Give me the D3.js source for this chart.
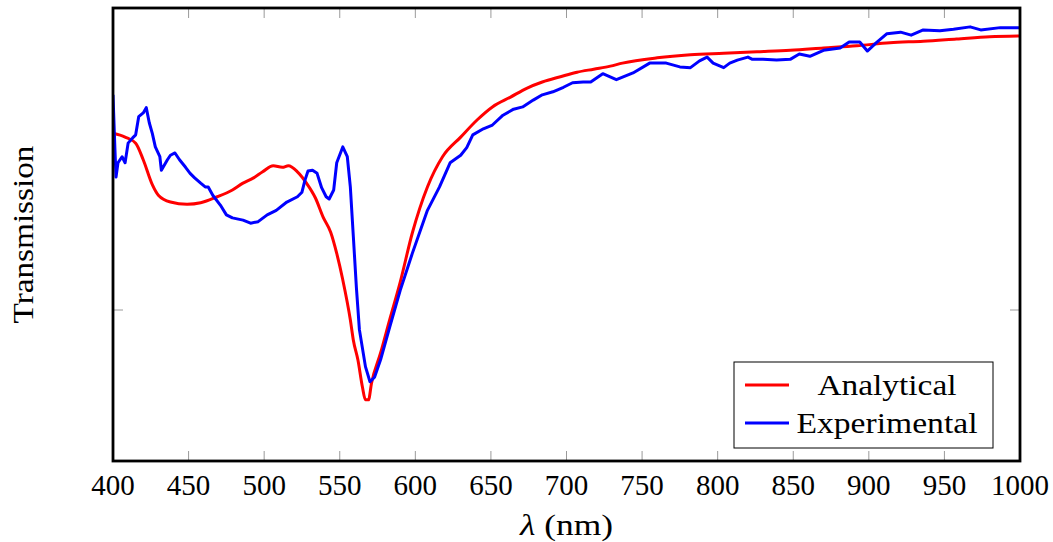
<!DOCTYPE html>
<html>
<head>
<meta charset="utf-8">
<script src="https://cdn.jsdelivr.net/npm/d3@7"></script>
<style>
    body { margin: 0; background: #fff; }
</style>
</head>
<body id="body">
<script>
// wavelength (nm) and transmission
var analyticalL = [400, 408, 415, 420, 426, 430, 438, 449, 458, 469, 479, 486, 493, 499, 506, 512, 516, 522, 528,
    534, 539, 544, 548, 552, 557, 559, 562, 565, 567, 569, 571, 577, 583, 590, 598, 608, 618, 630, 641,
    651, 663, 674, 684, 696, 707, 718, 729, 737, 760, 782, 804, 826, 848, 870, 892, 914, 936, 958, 980, 1000];
var analyticalT = [0.734, 0.729, 0.721, 0.699, 0.666, 0.652, 0.643, 0.640, 0.642, 0.650, 0.659, 0.668, 0.675, 0.683, 0.691, 0.689, 0.691, 0.683, 0.668,
    0.648, 0.623, 0.603, 0.575, 0.540, 0.487, 0.460, 0.434, 0.398, 0.381, 0.381, 0.403, 0.443, 0.487, 0.537, 0.602, 0.663, 0.703, 0.729, 0.752,
    0.769, 0.782, 0.794, 0.802, 0.809, 0.815, 0.819, 0.823, 0.827, 0.834, 0.838, 0.840, 0.842, 0.844, 0.847, 0.850, 0.854, 0.856, 0.859, 0.862, 0.863];

var experimentalL = [400, 401.3, 402, 403.3, 406, 408, 410, 413, 415, 417, 420, 422, 424, 426, 428, 431, 432, 436, 438, 441,
    444, 448, 451, 454, 458, 461, 463, 466, 471, 475, 479, 486, 491, 496, 502, 508, 515, 522, 525, 527,
    529, 532, 535, 538, 541, 543, 546, 548, 552, 555, 557, 559, 561, 563, 567, 570, 573, 577, 583, 590,
    598, 608, 616, 623, 630, 634, 638, 645, 651, 658, 665, 671, 678, 684, 691, 698, 704, 711, 716, 724,
    733, 744, 755, 766, 775, 782, 788, 793, 797, 804, 808, 813, 820, 823, 830, 839, 848, 854, 861, 870,
    881, 887, 894, 899, 905, 912, 921, 928, 936, 947, 956, 967, 974, 987, 1000];
var experimentalT = [0.785, 0.712, 0.676, 0.695, 0.703, 0.695, 0.721, 0.728, 0.732, 0.756, 0.761, 0.768, 0.748, 0.734, 0.716, 0.703, 0.685, 0.699, 0.705, 0.708,
    0.699, 0.689, 0.681, 0.675, 0.668, 0.663, 0.663, 0.652, 0.639, 0.626, 0.622, 0.619, 0.615, 0.617, 0.626, 0.632, 0.643, 0.650, 0.656, 0.672,
    0.684, 0.685, 0.681, 0.662, 0.650, 0.647, 0.659, 0.695, 0.716, 0.703, 0.663, 0.597, 0.530, 0.474, 0.425, 0.405, 0.411, 0.434, 0.477, 0.526,
    0.575, 0.632, 0.663, 0.695, 0.705, 0.715, 0.732, 0.740, 0.745, 0.758, 0.766, 0.769, 0.778, 0.785, 0.789, 0.795, 0.801, 0.802, 0.802, 0.813,
    0.805, 0.814, 0.827, 0.827, 0.822, 0.821, 0.830, 0.835, 0.827, 0.821, 0.827, 0.831, 0.835, 0.832, 0.832, 0.831, 0.832, 0.839, 0.836, 0.844,
    0.847, 0.855, 0.855, 0.843, 0.854, 0.866, 0.868, 0.864, 0.871, 0.870, 0.872, 0.875, 0.871, 0.874, 0.874];

var xTicks = [400, 450, 500, 550, 600, 650, 700, 750, 800, 850, 900, 950, 1000];
var yTicks = [0.5];
var seriesNames = ["Analytical", "Experimental"];
var seriesColors = ["#ff0000", "#0000ff"];

var font = "'Liberation Serif', 'DejaVu Serif', serif";
var width = 1053, height = 542;
var margin = { left: 113, right: 33, top: 8, bottom: 81 };
var x0 = margin.left, x1 = width - margin.right, y0 = margin.top, y1 = height - margin.bottom;

var x = d3.scaleLinear().domain([400, 1000]).range([x0, x1]);
var y = d3.scaleLinear().domain([0.3, 0.9]).range([y1, y0]);

var svg = d3.select("body").append("svg")
    .attr("width", width)
    .attr("height", height)
    .attr("font-family", font);

svg.append("defs").append("clipPath").attr("id", "clip")
    .append("rect").attr("x", x0).attr("y", y0).attr("width", x1 - x0).attr("height", y1 - y0);

// ticks (inward, grey, both sides)
var tickLen = 10;
svg.selectAll(".xtb").data(xTicks).enter().append("line")
    .attr("x1", d => x(d)).attr("x2", d => x(d))
    .attr("y1", y1).attr("y2", y1 - tickLen)
    .attr("stroke", "#9a9a9a").attr("stroke-width", 1);
svg.selectAll(".xtt").data(xTicks).enter().append("line")
    .attr("x1", d => x(d)).attr("x2", d => x(d))
    .attr("y1", y0).attr("y2", y0 + tickLen)
    .attr("stroke", "#9a9a9a").attr("stroke-width", 1);
svg.selectAll(".ytl").data(yTicks).enter().append("line")
    .attr("x1", x0).attr("x2", x0 + tickLen)
    .attr("y1", d => y(d)).attr("y2", d => y(d))
    .attr("stroke", "#9a9a9a").attr("stroke-width", 1);
svg.selectAll(".ytr").data(yTicks).enter().append("line")
    .attr("x1", x1).attr("x2", x1 - tickLen)
    .attr("y1", d => y(d)).attr("y2", d => y(d))
    .attr("stroke", "#9a9a9a").attr("stroke-width", 1);

svg.selectAll(".xl").data(xTicks).enter().append("text")
    .attr("x", d => x(d)).attr("y", y1 + 34)
    .attr("text-anchor", "middle")
    .attr("font-family", font)
    .attr("font-size", 29)
    .text(d => d);

// curves
var analytical = analyticalL.map((l, i) => [l, analyticalT[i]]);
var experimental = experimentalL.map((l, i) => [l, experimentalT[i]]);

var g = svg.append("g").attr("clip-path", "url(#clip)");
g.append("path")
    .datum(analytical)
    .attr("fill", "none")
    .attr("stroke", seriesColors[0])
    .attr("stroke-width", 3)
    .attr("d", d3.line().x(d => x(d[0])).y(d => y(d[1])).curve(d3.curveMonotoneX));
g.append("path")
    .datum(experimental)
    .attr("fill", "none")
    .attr("stroke", seriesColors[1])
    .attr("stroke-width", 3)
    .attr("stroke-linejoin", "round")
    .attr("d", d3.line().x(d => x(d[0])).y(d => y(d[1])));

// frame
svg.append("rect")
    .attr("x", x0).attr("y", y0)
    .attr("width", x1 - x0).attr("height", y1 - y0)
    .attr("fill", "none").attr("stroke", "#000").attr("stroke-width", 2.8);

// axis titles
svg.append("text")
    .attr("x", (x0 + x1) / 2).attr("y", 535)
    .attr("text-anchor", "middle")
    .attr("textLength", 93)
    .attr("lengthAdjust", "spacingAndGlyphs")
    .attr("font-family", font)
    .attr("font-size", 30)
    .html("<tspan font-style='italic'>λ</tspan> (nm)");

svg.append("text")
    .attr("transform", "translate(33," + ((y0 + y1) / 2) + ") rotate(-90)")
    .attr("text-anchor", "middle")
    .attr("textLength", 178)
    .attr("lengthAdjust", "spacingAndGlyphs")
    .attr("font-family", font)
    .attr("font-size", 29)
    .text("Transmission");

// legend
var lg = svg.append("g");
lg.append("rect")
    .attr("x", 734).attr("y", 362).attr("width", 259).attr("height", 86)
    .attr("fill", "#fff").attr("stroke", "#000").attr("stroke-width", 1);
var legendY = [385, 423];
var legendW = [139, 181];
seriesNames.forEach(function (name, i) {
    lg.append("line")
        .attr("x1", 745).attr("x2", 789)
        .attr("y1", legendY[i]).attr("y2", legendY[i])
        .attr("stroke", seriesColors[i]).attr("stroke-width", 3);
    lg.append("text")
        .attr("x", 887).attr("y", legendY[i] + 10)
        .attr("text-anchor", "middle")
        .attr("textLength", legendW[i])
        .attr("lengthAdjust", "spacingAndGlyphs")
        .attr("font-family", font)
        .attr("font-size", 29)
        .text(name);
});
</script>
</body>
</html>
